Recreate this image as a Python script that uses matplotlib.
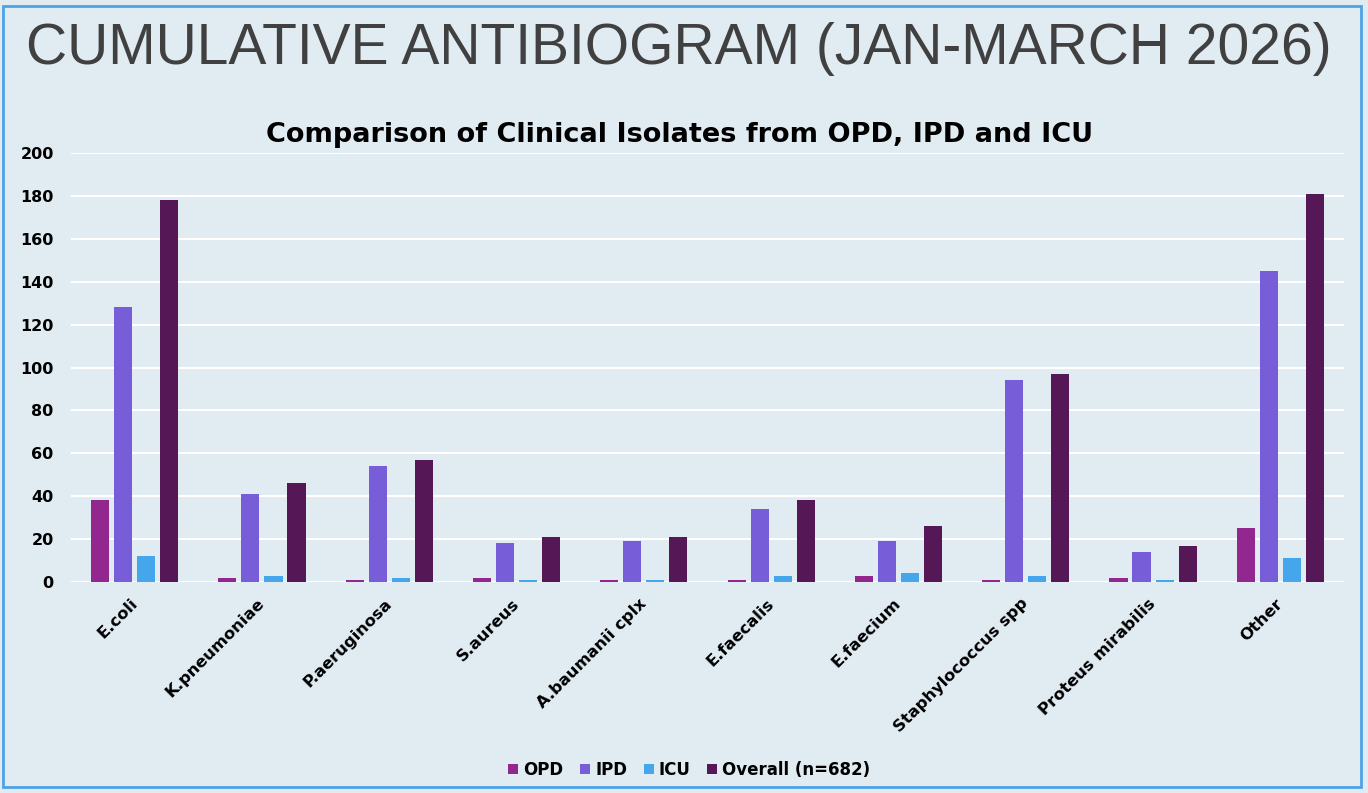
import numpy as np
import matplotlib.pyplot as plt
from matplotlib.patches import Rectangle
from matplotlib.transforms import ScaledTranslation

organisms = ['E.coli', 'K.pneumoniae', 'P.aeruginosa', 'S.aureus', 'A.baumanii cplx',
             'E.faecalis', 'E.faecium', 'Staphylococcus spp', 'Proteus mirabilis', 'Other']
opd = [38, 2, 1, 2, 1, 1, 3, 1, 2, 25]
ipd = [128, 41, 54, 18, 19, 34, 19, 94, 14, 145]
icu = [12, 3, 2, 1, 1, 3, 4, 3, 1, 11]
overall = [178, 46, 57, 21, 21, 38, 26, 97, 17, 181]

series = ['OPD', 'IPD', 'ICU', 'Overall (n=682)']
colors = ['#92278F', '#775DD8', '#46A6EC', '#561756']
bg = '#E0EBF2'
font = 'DejaVu Sans'

fig = plt.figure(figsize=(13.68, 7.93), dpi=100, facecolor=bg)
# blue frame round the slide
fig.patches.append(Rectangle((3 / 1368, 6 / 793), 1358 / 1368, 781 / 793,
                             transform=fig.transFigure, fill=False,
                             edgecolor='#4EA3E6', linewidth=2))

ax = fig.add_axes([71 / 1368, 1 - 582 / 793, 1273 / 1368, 429 / 793])
ax.set_facecolor(bg)

x = np.arange(len(organisms))
w = 0.142
step = 0.181
for i, (vals, c, name) in enumerate(zip([opd, ipd, icu, overall], colors, series)):
    ax.bar(x + (i - 1.5) * step, vals, width=w, color=c, label=name, zorder=3)

ax.set_xlim(-0.5, len(organisms) - 0.5)
ax.set_ylim(0, 200)
ax.set_yticks(range(0, 201, 20))
ax.grid(axis='y', color='white', linewidth=1.5, zorder=0)
for s in ax.spines.values():
    s.set_visible(False)
ax.tick_params(length=0)
ax.tick_params(axis='y', pad=12.5)
ax.tick_params(axis='x', pad=10)
ax.set_xticks(x)
ax.set_xticklabels(organisms, rotation=45, ha='right', rotation_mode='anchor')
shift = ScaledTranslation(-5 / 100, 0, fig.dpi_scale_trans)
for lab in ax.get_yticklabels() + ax.get_xticklabels():
    lab.set_fontweight('bold')
    lab.set_fontfamily(font)
for lab in ax.get_yticklabels():
    lab.set_fontsize(11.5)
for lab in ax.get_xticklabels():
    lab.set_fontsize(11.8)
    lab.set_transform(lab.get_transform() + shift)

fig.text(0.4965, 1 - 64 / 793, 'CUMULATIVE ANTIBIOGRAM (JAN-MARCH 2026)',
         ha='center', va='baseline', fontsize=41, color='#404040',
         family='Liberation Sans')
fig.text(0.4965, 1 - 135 / 793, 'Comparison of Clinical Isolates from OPD, IPD and ICU',
         ha='center', va='center', fontsize=19.5, fontweight='bold', color='black',
         family=font)

leg = fig.legend(loc='center', bbox_to_anchor=(0.504, 1 - 770 / 793), ncol=4,
                 frameon=False, handlelength=0.6, handleheight=0.6,
                 handletextpad=0.3, columnspacing=1.0,
                 prop={'family': font, 'weight': 'bold', 'size': 12})

fig.savefig('out.png', dpi=100, facecolor=bg)
